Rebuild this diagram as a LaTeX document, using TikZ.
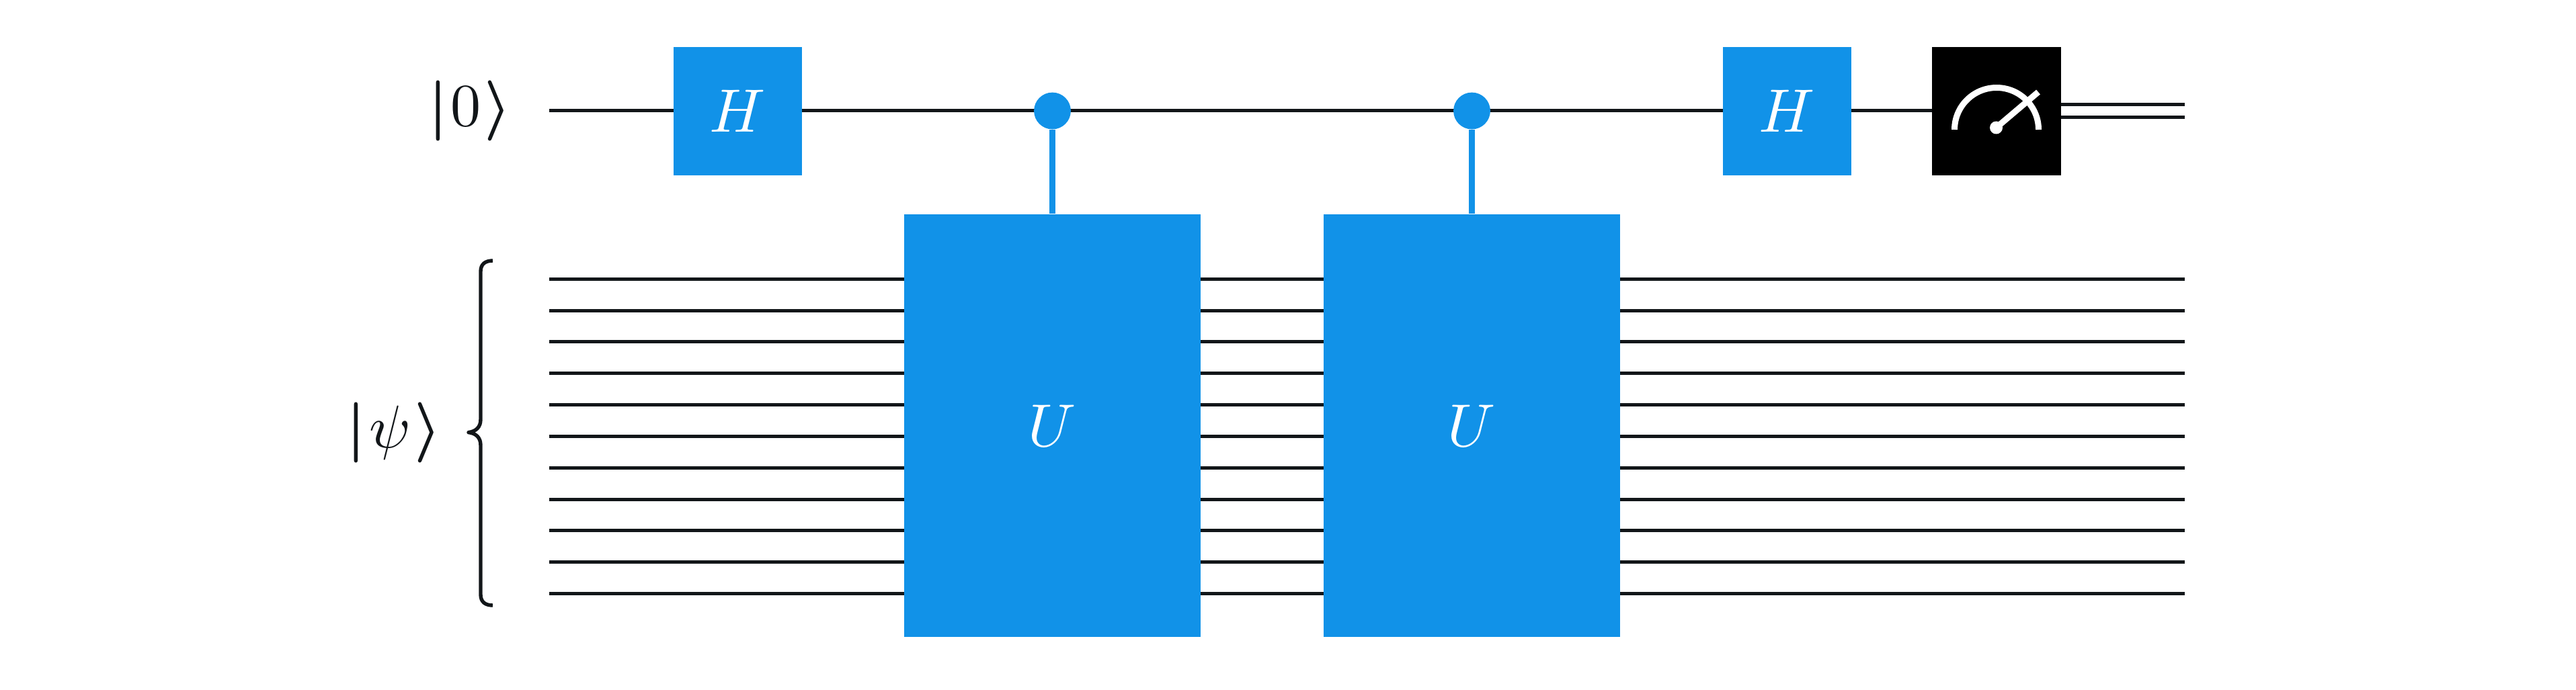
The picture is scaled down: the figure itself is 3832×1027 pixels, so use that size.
\documentclass[tikz,border=0pt]{standalone}
\usepackage{amsmath}
\definecolor{wirecol}{HTML}{121619}
\definecolor{gateblue}{HTML}{1192E8}
\tikzset{
  wire/.style={draw=wirecol,line width=1.25pt},
  gatebox/.style={fill=gateblue,draw=none,text=white,minimum width=47.75pt,minimum height=47.75pt,inner sep=0pt},
  bigbox/.style={fill=gateblue,draw=none,text=white,minimum width=110.25pt,minimum height=157.25pt,inner sep=0pt},
  measbox/.style={fill=black,draw=none,minimum width=48pt,minimum height=47.75pt,inner sep=0pt},
  ctrl/.style={circle,fill=gateblue,draw=none,minimum size=13.7pt,inner sep=0pt},
  cline/.style={draw=gateblue,line width=2.25pt},
  label/.style={text=wirecol,inner sep=0pt,scale=2.25},
  meter/.style={draw=white,line width=2.25pt}
}
\begin{document}
\begin{tikzpicture}[x=0.25pt,y=-0.25pt]
\useasboundingbox (0,0) rectangle (3832,1027);
% wire end points
\coordinate (ts) at (817,165);
\coordinate (te) at (2874,165);
\foreach \i/\yy in {0/415,1/462,2/508.7,3/555.5,4/602,5/649,6/696,7/743,8/789.5,9/836,10/883}{
  \coordinate (s\i) at (817,\yy);
  \coordinate (e\i) at (3250,\yy);
  \draw[wire] (s\i) -- (e\i);
}
\draw[wire] (ts) -- (te);
\coordinate (c1s) at (3066,156);
\coordinate (c1e) at (3250,156);
\coordinate (c2s) at (3066,175);
\coordinate (c2e) at (3250,175);
\draw[wire] (c1s) -- (c1e);
\draw[wire] (c2s) -- (c2e);
% gates
\node[gatebox] (h1) at (1097.5,165.5) {\scalebox{2.28}{$H$}};
\node[gatebox] (h2) at (2658,165.5) {\scalebox{2.28}{$H$}};
\node[measbox] (m) at (2970,165.5) {};
\node[bigbox] (u1) at (1565.5,633.5) {\scalebox{2.25}{$U$}};
\node[bigbox] (u2) at (2189.5,633.5) {\scalebox{2.25}{$U$}};
\node[ctrl] (d1) at (1565.5,165) {};
\node[ctrl] (d2) at (2189.5,165) {};
\draw[cline] (d1) -- (u1);
\draw[cline] (d2) -- (u2);
% meter
\coordinate (ma) at (2907.5,193);
\coordinate (mp) at (2969.5,190);
\coordinate (mt) at (3032,137);
\draw[meter] (ma) arc[start angle=180,end angle=360,radius=62.5];
\draw[meter] (mp) -- (mt);
\fill[white] (mp) circle[radius=9.5];
% labels
\node[label] (k0) at (699,165) {$\boldsymbol{|}\mkern1mu 0\mkern1mu\boldsymbol{\rangle}$};
\node[label] (kp) at (586,644) {$\boldsymbol{|}\mkern1mu\psi\mkern1mu\boldsymbol{\rangle}$};
% brace
\draw[draw=wirecol,line width=1.35pt,line join=round] (733,388) .. controls (722,388) and (715,393) .. (715,404)
  -- (715,624) .. controls (715,636) and (708,642) .. (697,643.6)
  .. controls (708,645) and (715,651) .. (715,663)
  -- (715,885) .. controls (715,896) and (722,901) .. (733,901);
\end{tikzpicture}
\end{document}
